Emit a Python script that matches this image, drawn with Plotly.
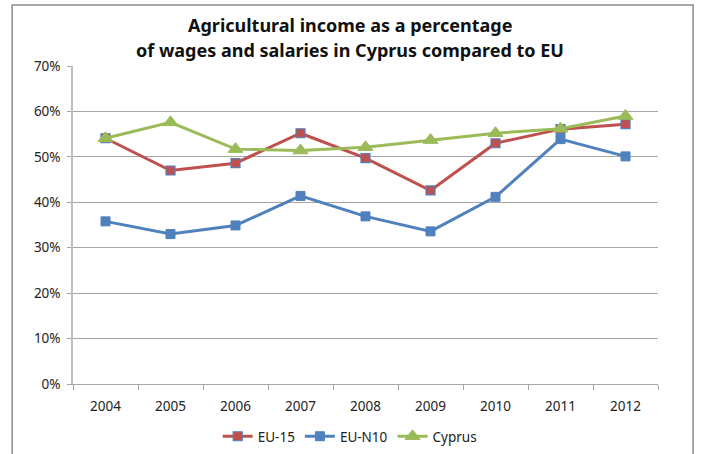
import plotly.graph_objects as go

years = ["2004", "2005", "2006", "2007", "2008", "2009", "2010", "2011", "2012"]
eu15 = [0.541, 0.470, 0.486, 0.552, 0.497, 0.426, 0.530, 0.561, 0.572]
eun10 = [0.358, 0.330, 0.349, 0.414, 0.369, 0.336, 0.412, 0.539, 0.501]
cyprus = [0.541, 0.576, 0.517, 0.514, 0.521, 0.537, 0.552, 0.562, 0.590]
y_ticks = [0, 0.1, 0.2, 0.3, 0.4, 0.5, 0.6, 0.7]
y_labels = ["0%", "10%", "20%", "30%", "40%", "50%", "60%", "70%"]
title_lines = ["Agricultural income as a percentage",
               "of wages and salaries in Cyprus compared to EU"]

RED = "#C0504D"
BLUE = "#4F81BD"
GREEN = "#9BBB59"
FONT = "Noto Sans"

fig = go.Figure()
fig.add_trace(go.Scatter(x=years, y=eu15, name="EU-15", mode="lines+markers",
                         line=dict(color=RED, width=3),
                         marker=dict(symbol="square", size=9, color=RED,
                                     line=dict(color=BLUE, width=1.2))))
fig.add_trace(go.Scatter(x=years, y=eun10, name="EU-N10", mode="lines+markers",
                         line=dict(color=BLUE, width=3),
                         marker=dict(symbol="square", size=9, color=BLUE,
                                     line=dict(color=BLUE, width=1))))
fig.add_trace(go.Scatter(x=years, y=cyprus, name="Cyprus", mode="lines+markers",
                         line=dict(color=GREEN, width=3),
                         marker=dict(symbol="triangle-up", size=13, color=GREEN,
                                     line=dict(color=GREEN, width=1))))

fig.update_layout(
    width=703, height=454,
    margin=dict(l=73, r=45, t=66, b=70, autoexpand=False),
    paper_bgcolor="white", plot_bgcolor="white",
    font=dict(family=FONT, color="#404040", size=13),
    showlegend=True,
    legend=dict(orientation="h", x=0.473, xanchor="center", y=-0.165, yanchor="middle",
                font=dict(family=FONT, size=13.5, color="#222222"),
                itemwidth=30, tracegroupgap=0),
    shapes=[dict(type="rect", xref="paper", yref="paper", x0=-0.104, x1=1.06,
                 y0=-0.4, y1=1.192, line=dict(color="#8C8C8C", width=1.5),
                 fillcolor="rgba(0,0,0,0)", layer="below")],
    annotations=[
        dict(text="<b>%s</b>" % title_lines[0], xref="paper", yref="paper",
             x=0.474, y=1.129, xanchor="center", yanchor="middle", showarrow=False,
             font=dict(family=FONT, size=18, color="#111111")),
        dict(text="<b>%s</b>" % title_lines[1], xref="paper", yref="paper",
             x=0.474, y=1.050, xanchor="center", yanchor="middle", showarrow=False,
             font=dict(family=FONT, size=18, color="#111111")),
    ],
)
fig.update_xaxes(type="category", showgrid=False, showline=True, linecolor="#A6A6A6",
                 linewidth=1, ticks="outside", tickson="boundaries", ticklen=5,
                 tickcolor="#A6A6A6", tickfont=dict(size=13.5, color="#222222"),
                 ticklabelstandoff=10, range=[-0.5, 8.5])
fig.update_yaxes(range=[0, 0.7], tickvals=y_ticks, ticktext=y_labels,
                 showgrid=True, gridcolor="#A6A6A6", gridwidth=1,
                 showline=True, linecolor="#BFBFBF", linewidth=1.5,
                 ticks="outside", ticklen=4, tickcolor="#A6A6A6",
                 ticklabelstandoff=4,
                 tickfont=dict(size=13.5, color="#222222"), zeroline=False)

fig.write_html("out.html", config={"displayModeBar": False},
               post_script="document.body.style.margin='0';document.body.style.overflow='hidden';")
